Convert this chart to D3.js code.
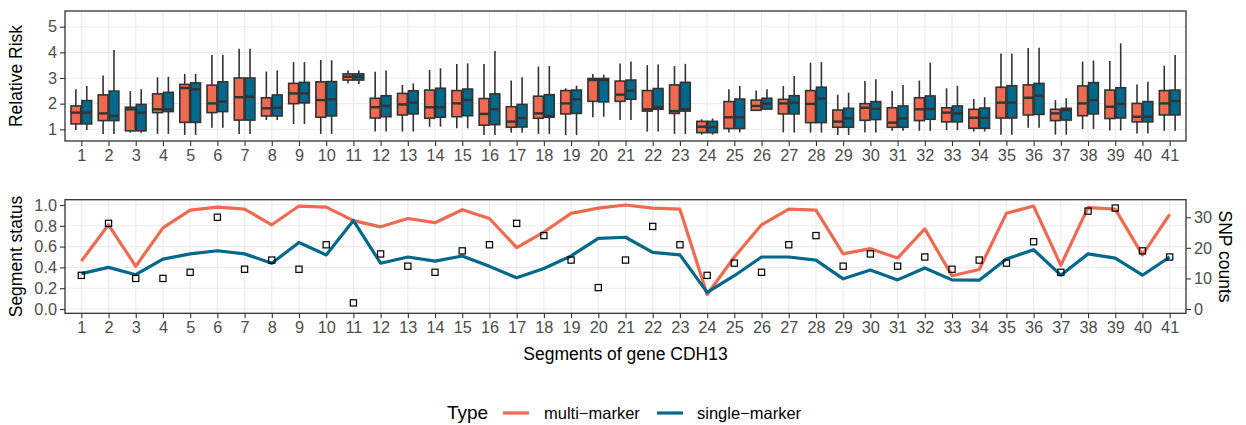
<!DOCTYPE html>
<html>
<head>
<meta charset="utf-8">
<script src="https://cdn.jsdelivr.net/npm/d3@7"></script>
<style>
  html, body { margin: 0; padding: 0; background: #fff; }
  svg { display: block; font-family: "Liberation Sans", Arial, Helvetica, sans-serif; }
</style>
</head>
<body>
<svg id="chart" width="1246" height="425"></svg>
<script>
// Segments of CDH13
const segments = d3.range(1, 42).map(String);

// Relative risk box statistics per segment: [lower whisker, Q1, median, Q3, upper whisker]
const multiMarkerRR = [
  [0.97,1.21,1.65,1.91,2.56],[0.82,1.34,1.62,2.34,3.10],[0.87,0.94,1.78,1.86,2.49],[0.82,1.65,1.78,2.38,3.03],
  [0.78,1.27,2.61,2.75,3.16],[1.06,1.65,2.01,2.72,3.90],[0.82,1.36,2.25,3.00,4.14],[1.36,1.52,1.82,2.23,3.25],
  [1.21,2.00,2.40,2.79,3.62],[0.82,1.47,2.14,2.85,3.70],[2.79,2.92,3.05,3.16,3.29],[0.91,1.44,1.86,2.21,3.24],
  [0.91,1.56,1.97,2.40,2.73],[1.10,1.43,1.86,2.53,3.31],[1.04,1.49,2.01,2.51,3.55],[0.78,1.16,1.60,2.20,3.55],
  [0.87,1.08,1.30,1.88,2.90],[0.82,1.43,1.62,2.29,3.44],[0.78,1.60,2.01,2.51,2.60],[1.47,2.09,2.92,2.98,3.16],
  [1.36,2.09,2.35,2.88,3.57],[0.91,1.71,1.78,2.51,3.50],[0.82,1.62,1.71,2.73,3.47],[0.79,0.87,1.10,1.31,1.39],
  [0.88,1.03,1.47,2.08,2.56],[1.74,1.74,1.91,2.14,2.51],[0.88,1.60,2.01,2.17,2.69],[0.87,1.26,1.99,2.51,3.60],
  [0.78,1.08,1.30,1.75,2.35],[0.88,1.35,1.84,2.00,2.88],[0.94,1.08,1.26,1.84,2.49],[0.94,1.34,1.78,2.23,2.90],
  [0.97,1.29,1.65,1.84,2.60],[0.91,1.04,1.45,1.78,2.18],[0.79,1.44,2.04,2.64,3.96],[1.06,1.56,2.23,2.73,4.17],
  [0.79,1.34,1.62,1.78,2.14],[1.01,1.53,2.01,2.69,3.64],[0.95,1.42,1.88,2.53,3.66],[0.84,1.29,1.49,2.01,2.75],
  [0.94,1.56,2.01,2.51,3.48]
];
const singleMarkerRR = [
  [0.97,1.21,1.65,2.12,2.69],[0.82,1.34,1.52,2.49,4.09],[0.87,0.94,1.65,1.97,2.56],[0.82,1.69,1.78,2.44,3.05],
  [0.78,1.27,2.56,2.81,3.16],[1.06,1.69,2.08,2.85,3.90],[0.82,1.36,2.27,3.00,4.14],[1.36,1.52,1.84,2.34,3.30],
  [1.21,2.03,2.40,2.83,3.62],[0.82,1.52,2.17,2.86,3.69],[2.77,2.92,3.05,3.16,3.29],[0.91,1.49,1.91,2.31,3.29],
  [0.91,1.60,2.04,2.50,2.79],[1.10,1.47,1.86,2.60,3.38],[1.04,1.53,2.14,2.57,3.57],[0.78,1.18,1.78,2.38,4.05],
  [0.87,1.09,1.44,1.97,3.03],[0.82,1.47,1.52,2.35,3.47],[0.78,1.62,2.17,2.53,2.70],[1.49,2.07,2.92,2.98,3.13],
  [1.36,2.17,2.51,2.92,3.64],[0.91,1.78,1.86,2.59,3.53],[0.82,1.71,1.79,2.83,3.55],[0.79,0.87,1.08,1.31,1.42],
  [0.88,1.03,1.47,2.18,2.69],[1.79,1.79,2.00,2.21,2.56],[0.88,1.60,2.04,2.31,3.08],[0.87,1.26,2.20,2.64,3.62],
  [0.78,1.08,1.43,1.82,2.43],[0.88,1.38,1.80,2.08,2.95],[0.94,1.08,1.42,1.91,2.73],[0.94,1.39,1.79,2.30,3.60],
  [0.97,1.29,1.62,1.91,2.70],[0.91,1.04,1.45,1.83,2.25],[0.79,1.44,2.04,2.70,3.96],[1.06,1.58,2.31,2.79,4.18],
  [0.79,1.36,1.75,1.82,2.21],[1.01,1.60,2.14,2.82,3.68],[0.95,1.44,1.99,2.62,4.35],[0.84,1.29,1.49,2.08,2.85],
  [0.94,1.56,2.10,2.53,3.90]
];

// Segment status per type
const multiMarkerStatus = [0.46,0.81,0.41,0.78,0.95,0.98,0.96,0.81,0.99,0.98,0.85,0.79,0.87,0.83,0.955,0.87,0.59,0.74,0.92,0.97,1.0,0.97,0.96,0.14,0.50,0.81,0.96,0.95,0.53,0.58,0.49,0.77,0.32,0.38,0.92,0.99,0.42,0.975,0.96,0.52,0.91];
const singleMarkerStatus = [0.34,0.40,0.33,0.48,0.53,0.56,0.53,0.44,0.64,0.52,0.85,0.44,0.50,0.46,0.51,0.41,0.30,0.39,0.51,0.68,0.69,0.545,0.52,0.16,0.32,0.50,0.50,0.47,0.29,0.375,0.28,0.395,0.28,0.277,0.48,0.57,0.325,0.53,0.49,0.325,0.50];

// SNP counts per segment (secondary axis)
const snpCounts = [11,28,10,10,12,30,13,16,13,21,2,18,14,12,19,21,28,24,16,7,16,27,21,11,15,12,21,24,14,18,14,17,13,16,15,22,12,32,33,19,17];

const types = ["multi-marker", "single-marker"];
const typeColors = ["#EE6A50", "#00688B"];
const rrTicks = [1, 2, 3, 4, 5];
const statusTicks = [0, 0.2, 0.4, 0.6, 0.8, 1.0];
const snpTicks = [0, 10, 20, 30];
const snpScaleFactor = 34;

const svg = d3.select("#chart");
const gridColor = "#EBEBEB";
const inkColor = "#333333";
const tickTextColor = "#4D4D4D";

const left = 65, right = 1186;
const top1 = 11, bottom1 = 141;
const top2 = 199.7, bottom2 = 313.3;

const x = d3.scalePoint().domain(segments).range([left, right]).padding(0.6);
const step = x.step();
const yRR = d3.scaleLinear().domain([0.544, 5.612]).range([bottom1, top1]);
const yStatus = d3.scaleLinear().domain([-0.0413, 1.051]).range([bottom2, top2]);
const ySnp = d3.scaleLinear().domain(yStatus.domain().map(d => d * snpScaleFactor)).range([bottom2, top2]);

function styleAxis(g) {
  g.select(".domain").remove();
  g.selectAll(".tick line").attr("stroke", inkColor).attr("stroke-width", 1.1);
  g.selectAll(".tick text").attr("fill", tickTextColor).attr("font-size", 16.3).attr("font-family", null);
}

// ---------- Top panel: relative risk boxplots ----------
const p1 = svg.append("g");
p1.append("rect").attr("x", left).attr("y", top1).attr("width", right - left).attr("height", bottom1 - top1).attr("fill", "#fff");
p1.selectAll(".hgrid").data(rrTicks).join("line")
  .attr("x1", left).attr("x2", right).attr("y1", d => yRR(d)).attr("y2", d => yRR(d))
  .attr("stroke", gridColor).attr("stroke-width", 1.1);
p1.selectAll(".vgrid").data(segments).join("line")
  .attr("x1", d => x(d)).attr("x2", d => x(d)).attr("y1", top1).attr("y2", bottom1)
  .attr("stroke", gridColor).attr("stroke-width", 1.1);

const boxData = [];
segments.forEach((s, i) => {
  boxData.push({ seg: s, type: 0, v: multiMarkerRR[i] });
  boxData.push({ seg: s, type: 1, v: singleMarkerRR[i] });
});
const boxW = step * 0.36;
const boxes = p1.selectAll(".box").data(boxData).join("g")
  .attr("transform", d => `translate(${x(d.seg) + (d.type === 0 ? -0.2 : 0.2) * step},0)`);
boxes.append("line").attr("x1", 0).attr("x2", 0)
  .attr("y1", d => yRR(d.v[3])).attr("y2", d => yRR(d.v[4]))
  .attr("stroke", inkColor).attr("stroke-width", 1.6);
boxes.append("line").attr("x1", 0).attr("x2", 0)
  .attr("y1", d => yRR(d.v[1])).attr("y2", d => yRR(d.v[0]))
  .attr("stroke", inkColor).attr("stroke-width", 1.6);
boxes.append("rect")
  .attr("x", -boxW / 2).attr("width", boxW)
  .attr("y", d => yRR(d.v[3])).attr("height", d => Math.max(0.5, yRR(d.v[1]) - yRR(d.v[3])))
  .attr("fill", d => typeColors[d.type]).attr("stroke", inkColor).attr("stroke-width", 1.6);
boxes.append("line").attr("x1", -boxW / 2).attr("x2", boxW / 2)
  .attr("y1", d => yRR(d.v[2])).attr("y2", d => yRR(d.v[2]))
  .attr("stroke", inkColor).attr("stroke-width", 2.4);

p1.append("rect").attr("x", left).attr("y", top1).attr("width", right - left).attr("height", bottom1 - top1)
  .attr("fill", "none").attr("stroke", inkColor).attr("stroke-width", 1.3);

svg.append("g").attr("transform", `translate(${left},0)`)
  .call(d3.axisLeft(yRR).tickValues(rrTicks).tickSize(5).tickPadding(3).tickFormat(d3.format("d")))
  .call(styleAxis);
svg.append("g").attr("transform", `translate(0,${bottom1})`)
  .call(d3.axisBottom(x).tickSize(5).tickPadding(3))
  .call(styleAxis);

svg.append("text").attr("transform", `translate(22,${(top1 + bottom1) / 2}) rotate(-90)`)
  .attr("text-anchor", "middle").attr("font-size", 17.5).attr("fill", "#000").text("Relative Risk");

// ---------- Bottom panel: segment status lines and SNP counts ----------
const p2 = svg.append("g");
p2.selectAll(".hgrid").data(statusTicks).join("line")
  .attr("x1", left).attr("x2", right).attr("y1", d => yStatus(d)).attr("y2", d => yStatus(d))
  .attr("stroke", gridColor).attr("stroke-width", 1.1);
p2.selectAll(".vgrid").data(segments).join("line")
  .attr("x1", d => x(d)).attr("x2", d => x(d)).attr("y1", top2).attr("y2", bottom2)
  .attr("stroke", gridColor).attr("stroke-width", 1.1);

const statusLine = d3.line().x((d, i) => x(segments[i])).y(d => yStatus(d));
[multiMarkerStatus, singleMarkerStatus].forEach((series, t) => {
  p2.append("path").datum(series).attr("d", statusLine)
    .attr("fill", "none").attr("stroke", typeColors[t]).attr("stroke-width", 3.2)
    .attr("stroke-linejoin", "round");
});

const sq = 6.2;
p2.selectAll(".snp").data(snpCounts).join("rect")
  .attr("x", (d, i) => x(segments[i]) - sq / 2).attr("y", d => ySnp(d) - sq / 2)
  .attr("width", sq).attr("height", sq)
  .attr("fill", "none").attr("stroke", "#000").attr("stroke-width", 1.2);

p2.append("rect").attr("x", left).attr("y", top2).attr("width", right - left).attr("height", bottom2 - top2)
  .attr("fill", "none").attr("stroke", inkColor).attr("stroke-width", 1.3);

svg.append("g").attr("transform", `translate(${left},0)`)
  .call(d3.axisLeft(yStatus).tickValues(statusTicks).tickSize(5).tickPadding(3).tickFormat(d3.format(".1f")))
  .call(styleAxis);
svg.append("g").attr("transform", `translate(${right},0)`)
  .call(d3.axisRight(ySnp).tickValues(snpTicks).tickSize(5).tickPadding(3).tickFormat(d3.format("d")))
  .call(styleAxis);
svg.append("g").attr("transform", `translate(0,${bottom2})`)
  .call(d3.axisBottom(x).tickSize(5).tickPadding(3))
  .call(styleAxis);

svg.append("text").attr("transform", `translate(22,${(top2 + bottom2) / 2}) rotate(-90)`)
  .attr("text-anchor", "middle").attr("font-size", 17.5).attr("fill", "#000").text("Segment status");
svg.append("text").attr("transform", `translate(1219,${(top2 + bottom2) / 2}) rotate(90)`)
  .attr("text-anchor", "middle").attr("font-size", 17.5).attr("fill", "#000").text("SNP counts");
svg.append("text").attr("x", (left + right) / 2).attr("y", 360)
  .attr("text-anchor", "middle").attr("font-size", 17.5).attr("fill", "#000").text("Segments of gene CDH13");

// ---------- Legend ----------
const legend = svg.append("g");
legend.append("text").attr("x", 447).attr("y", 419).attr("font-size", 19).attr("fill", "#000").text("Type");
const keyX = [503, 657];
const labelX = [544, 697];
types.forEach((t, i) => {
  legend.append("line").attr("x1", keyX[i]).attr("x2", keyX[i] + 26).attr("y1", 413).attr("y2", 413)
    .attr("stroke", typeColors[i]).attr("stroke-width", 3.2);
  legend.append("text").attr("x", labelX[i]).attr("y", 419).attr("font-size", 16.5).attr("fill", "#000")
    .text(t.replace("-", "\u2212"));
});
</script>
</body>
</html>
